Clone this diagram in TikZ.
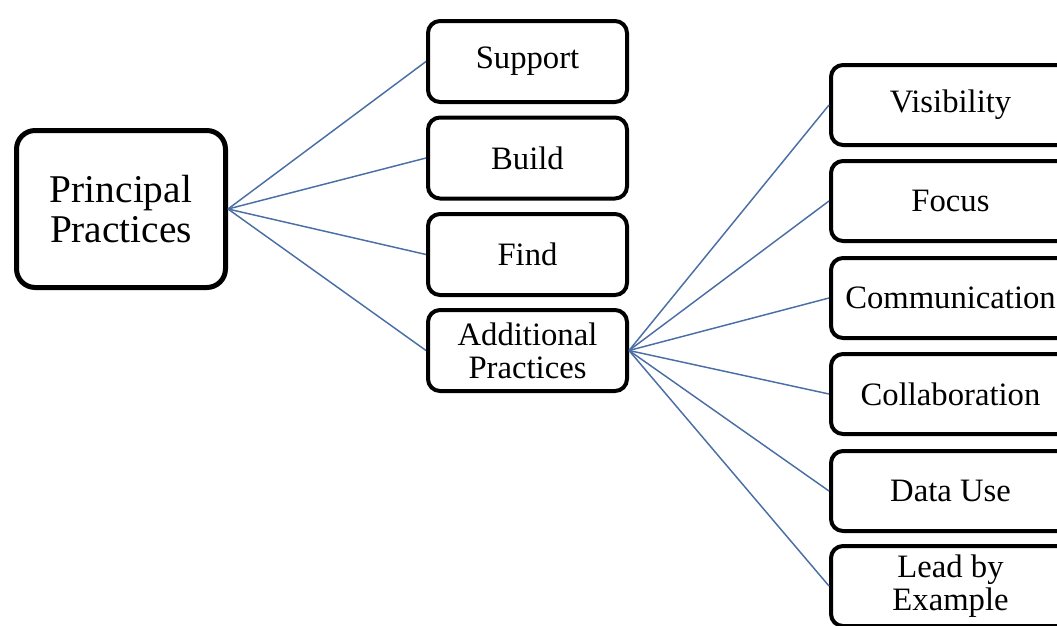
\documentclass[tikz,border=0pt]{standalone}
\usepackage{fontspec}
\setmainfont{Liberation Serif}
\begin{document}
\begin{tikzpicture}[x=0.75pt,y=-0.75pt,
  box/.style={draw=black,line width=3pt,rounded corners=9pt,fill=white,align=center,inner sep=0pt,font=\fontsize{24.5}{25}\selectfont},
  midbox/.style={box,minimum width=149.25pt,minimum height=60.75pt},
  rbox/.style={box,minimum width=179.25pt,minimum height=60pt},
  link/.style={draw={rgb,255:red,74;green,110;blue,165},line width=1.1pt}]
\useasboundingbox (0,0) rectangle (1057,625);
\node[box,line width=3.75pt,rounded corners=14pt,minimum width=156.75pt,minimum height=117.75pt,font=\fontsize{29.5}{30}\selectfont] (pp) at (121,209) {Principal\\Practices};
\node[midbox] (sup) at (527.5,61.5) {Support};
\node[midbox] (bui) at (527.5,158) {Build};
\node[midbox] (fin) at (527.5,254.5) {Find};
\node[midbox] (add) at (527.5,350.5) {Additional\\Practices};
\node[rbox] (vis) at (950.5,105) {Visibility};
\node[rbox] (foc) at (950.5,201) {Focus};
\node[rbox] (com) at (950.5,298) {Communication};
\node[rbox] (col) at (950.5,394) {Collaboration};
\node[rbox] (dat) at (950.5,491) {Data Use};
\node[rbox] (lea) at (950.5,586) {Lead by\\Example};
\foreach \t in {sup,bui,fin,add} \draw[link] (pp.east) -- (\t.west);
\foreach \t in {vis,foc,com,col,dat,lea} \draw[link] (add.east) -- (\t.west);
\end{tikzpicture}
\end{document}
